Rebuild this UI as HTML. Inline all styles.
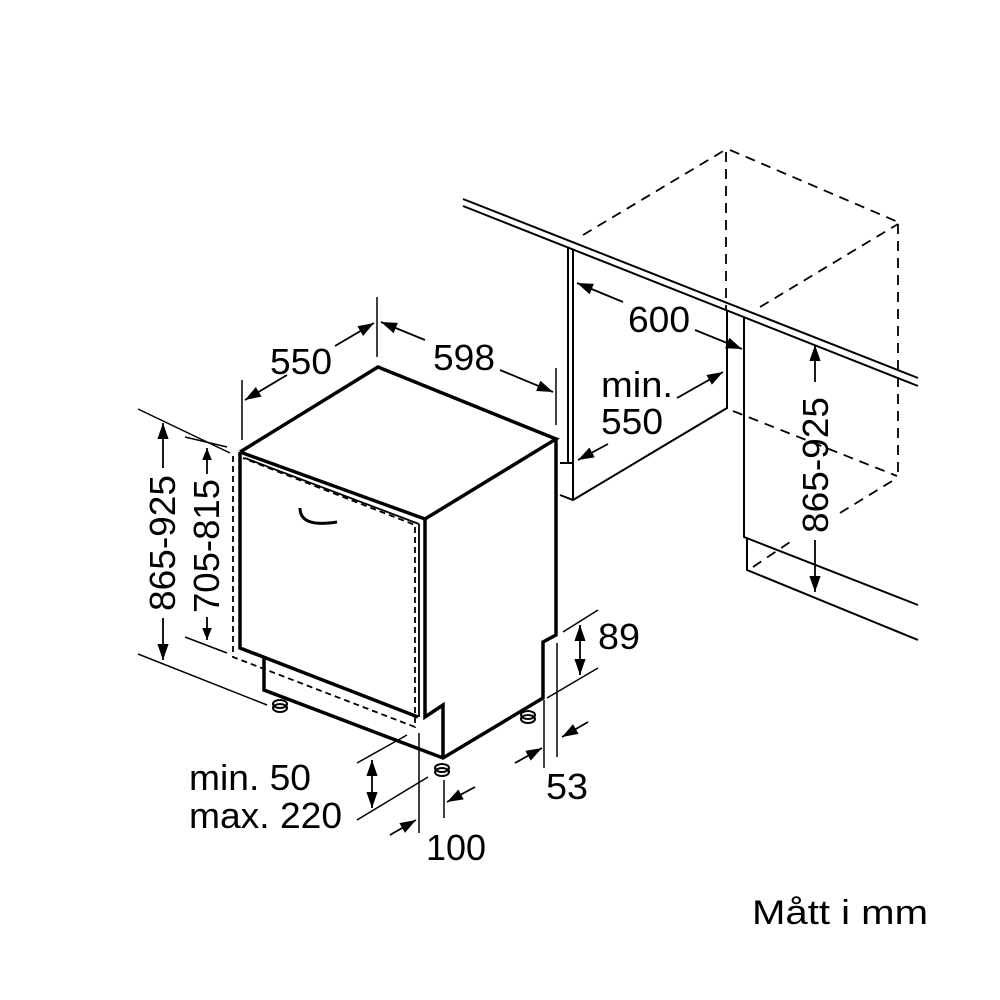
<!DOCTYPE html>
<html><head><style>html,body{margin:0;padding:0;background:#fff}svg{display:block}</style></head>
<body>
<svg width="1000" height="1000" viewBox="0 0 1000 1000" xmlns="http://www.w3.org/2000/svg">
<defs>
<marker id="a" viewBox="0 0 10 10" refX="10" refY="5" markerWidth="12" markerHeight="12" markerUnits="userSpaceOnUse" orient="auto-start-reverse" >
<path d="M0,1 L10,5 L0,9 Z" fill="#000"/></marker>
<marker id="b" viewBox="0 0 10 10" refX="10" refY="5" markerWidth="16" markerHeight="16" markerUnits="userSpaceOnUse" orient="auto-start-reverse" >
<path d="M0,1.5 L10,5 L0,8.5 Z" fill="#000"/></marker>
</defs>
<g fill="none" stroke="#000" stroke-linejoin="miter">
<g stroke-width="3.5">
<polyline points="240,452 378,367 556,439 425,519 240,452"/>
<polyline points="240,452 240,648 418,717"/>
<polyline points="556,439 556,635 543,642 543,698 443,758 264,690 264,658"/>
<polyline points="425,519 425,717 443,705 443,758"/>
</g>
<g stroke-width="1.8">
<line x1="245" y1="458" x2="419" y2="524"/>
<line x1="419" y1="524" x2="419" y2="717"/>
</g>
<path d="M300,508 Q300,528 337,522" stroke-width="3"/>
<g stroke-width="1.8" stroke-dasharray="6,4">
<polyline points="233,456 233,657 415,727 415,525 243,458"/>
</g>
<g stroke-width="2">
<ellipse cx="280" cy="704" rx="7" ry="4"/><ellipse cx="280" cy="708" rx="7" ry="4"/>
<ellipse cx="442" cy="768" rx="7" ry="4"/><ellipse cx="442" cy="772" rx="7" ry="4"/>
<ellipse cx="528" cy="715" rx="7" ry="4"/><ellipse cx="528" cy="719" rx="7" ry="4"/>
</g>
<g stroke-width="2">
<line x1="463" y1="199" x2="918" y2="378"/>
<line x1="463" y1="206" x2="918" y2="386"/>
<line x1="568" y1="247" x2="568" y2="463"/>
<line x1="573" y1="249" x2="573" y2="500"/>
<polyline points="560,463 573,463"/>
<polyline points="560,495 573,500 727,408 727,310"/>
<polyline points="744,318 744,537 918,605"/>
<polyline points="747,537 747,570 918,640"/>
</g>
<g stroke-width="1.8" stroke-dasharray="10,7">
<line x1="583" y1="235" x2="725" y2="150"/>
<line x1="730" y1="150" x2="898" y2="222"/>
<line x1="726" y1="152" x2="726" y2="310"/>
<line x1="898" y1="224" x2="898" y2="478"/>
<line x1="760" y1="307" x2="898" y2="224"/>
<line x1="733" y1="411" x2="897" y2="476"/>
<line x1="840" y1="513" x2="897" y2="478"/>
<line x1="753" y1="567" x2="793" y2="540"/>
</g>
<g stroke-width="1.5">
<line x1="138" y1="409" x2="230" y2="453"/>
<line x1="138" y1="654" x2="267" y2="705"/>
<line x1="185" y1="437" x2="227" y2="447"/>
<line x1="185" y1="637" x2="227" y2="653"/>
<line x1="242" y1="380" x2="242" y2="440"/>
<line x1="377" y1="297" x2="377" y2="357"/>
<line x1="556" y1="368" x2="556" y2="425"/>
<line x1="563" y1="632" x2="598" y2="610"/>
<line x1="547" y1="698" x2="598" y2="668"/>
<line x1="544" y1="700" x2="544" y2="768"/>
<line x1="557" y1="643" x2="557" y2="757"/>
<line x1="419" y1="733" x2="419" y2="833"/>
<line x1="444" y1="780" x2="444" y2="818"/>
<line x1="357" y1="763" x2="407" y2="735"/>
<line x1="357" y1="820" x2="428" y2="777"/>
</g>
<g stroke-width="1.8">
<line x1="163" y1="468" x2="163" y2="423" marker-end="url(#b)"/>
<line x1="163" y1="618" x2="163" y2="660" marker-end="url(#b)"/>
<line x1="207" y1="474" x2="207" y2="448" marker-end="url(#a)"/>
<line x1="207" y1="617" x2="207" y2="640" marker-end="url(#a)"/>
<line x1="287" y1="375" x2="245" y2="400" marker-end="url(#b)"/>
<line x1="335" y1="346" x2="374" y2="323" marker-end="url(#b)"/>
<line x1="425" y1="340" x2="381" y2="322" marker-end="url(#b)"/>
<line x1="500" y1="370" x2="553" y2="392" marker-end="url(#b)"/>
<line x1="623" y1="302" x2="577" y2="283" marker-end="url(#b)"/>
<line x1="695" y1="330" x2="742" y2="349" marker-end="url(#b)"/>
<line x1="677" y1="398" x2="723" y2="372" marker-end="url(#b)"/>
<line x1="608" y1="444" x2="578" y2="460" marker-end="url(#b)"/>
<line x1="815" y1="382" x2="815" y2="345" marker-end="url(#b)"/>
<line x1="815" y1="540" x2="815" y2="592" marker-end="url(#b)"/>
<line x1="580" y1="650" x2="580" y2="625" marker-end="url(#b)"/>
<line x1="580" y1="650" x2="580" y2="675" marker-end="url(#b)"/>
<line x1="515" y1="763" x2="542" y2="748" marker-end="url(#b)"/>
<line x1="588" y1="722" x2="562" y2="737" marker-end="url(#b)"/>
<line x1="390" y1="835" x2="416" y2="820" marker-end="url(#b)"/>
<line x1="475" y1="787" x2="447" y2="802" marker-end="url(#b)"/>
<line x1="372" y1="784" x2="372" y2="760" marker-end="url(#b)"/>
<line x1="372" y1="784" x2="372" y2="808" marker-end="url(#b)"/>
</g>
</g>
<g font-family="Liberation Sans, Arial, sans-serif" font-size="36" fill="#000">
<text x="270" y="374" textLength="62" lengthAdjust="spacingAndGlyphs">550</text>
<text x="433" y="370" textLength="62" lengthAdjust="spacingAndGlyphs">598</text>
<text x="628" y="332" textLength="62" lengthAdjust="spacingAndGlyphs">600</text>
<text x="601" y="397" textLength="72" lengthAdjust="spacingAndGlyphs">min.</text>
<text x="601" y="434" textLength="62" lengthAdjust="spacingAndGlyphs">550</text>
<text transform="translate(175,611) rotate(-90)" textLength="136" lengthAdjust="spacingAndGlyphs">865-925</text>
<text transform="translate(219,613) rotate(-90)" textLength="134" lengthAdjust="spacingAndGlyphs">705-815</text>
<text transform="translate(828,533) rotate(-90)" textLength="136" lengthAdjust="spacingAndGlyphs">865-925</text>
<text x="598" y="649" textLength="42" lengthAdjust="spacingAndGlyphs">89</text>
<text x="546" y="799" textLength="42" lengthAdjust="spacingAndGlyphs">53</text>
<text x="426" y="860" textLength="60" lengthAdjust="spacingAndGlyphs">100</text>
<text x="189" y="790" textLength="122" lengthAdjust="spacingAndGlyphs">min. 50</text>
<text x="189" y="828" textLength="153" lengthAdjust="spacingAndGlyphs">max. 220</text>
<text x="752" y="924" font-size="34" textLength="176" lengthAdjust="spacingAndGlyphs">Mått i mm</text>
</g>
</svg>
</body></html>
